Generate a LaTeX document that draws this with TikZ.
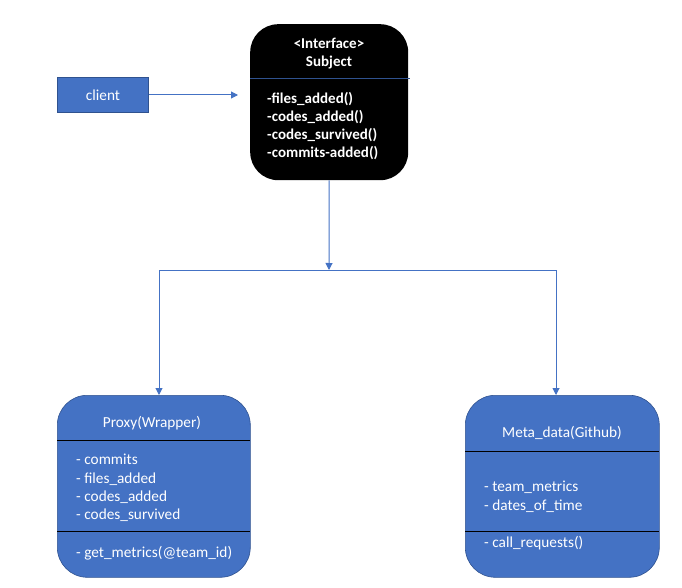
\documentclass[tikz,border=0pt]{standalone}
\usepackage{fontspec}
\setmainfont{Carlito}
\usetikzlibrary{arrows.meta}
\definecolor{cblue}{HTML}{4472C4}
\definecolor{cdark}{HTML}{2F528F}
\begin{document}
\begin{tikzpicture}[x=1pt,y=-1pt,
  txt/.style={text=white, font=\fontsize{15.3}{18}\selectfont, inner sep=0pt, anchor=base west},
  ctxt/.style={txt, anchor=base},
  btxt/.style={txt, font=\fontsize{15}{18}\selectfont\bfseries},
  cbtxt/.style={btxt, anchor=base},
  umlbox/.style={fill=cblue, draw=cdark, line width=0.6pt, rounded corners=30pt, anchor=north west, inner sep=0pt},
  divider/.style={draw=black, line width=0.8pt},
  conn/.style={draw=cblue, line width=1pt, -{Triangle[length=7pt,width=7pt]}},
  line/.style={draw=cblue, line width=1pt}]
\useasboundingbox (0,0) rectangle (682,588);

% Subject
\node[fill=black, rounded corners=28pt, anchor=north west, inner sep=0pt,
      minimum width=158pt, minimum height=156pt] (subj) at (250,24) {};
\draw[draw=cdark, line width=0.8pt] (250,78) -- (410,78);
\node[cbtxt] (s1) at (329,49) {<Interface>};
\node[cbtxt] (s2) at (329,67) {Subject};
\node[btxt] (s3) at (267,104) {-files\_added()};
\node[btxt] (s4) at (267,122) {-codes\_added()};
\node[btxt] (s5) at (267,140) {-codes\_survived()};
\node[btxt] (s6) at (267,158) {-commits-added()};

% client
\node[fill=cblue, draw=cdark, line width=1pt, anchor=north west, inner sep=0pt,
      minimum width=91pt, minimum height=35pt, text=white,
      font=\fontsize{15.3}{18}\selectfont] (client) at (57,77) {client};
\draw[conn, shorten >=12pt] (client.east) -- (client.east -| subj.west);

% Proxy
\node[umlbox, minimum width=193pt, minimum height=182pt] (proxy) at (57,395) {};
\draw[divider] (57,440) -- (250,440);
\draw[divider] (57,531) -- (250,531);
\node[ctxt] (p0) at (152,427) {Proxy(Wrapper)};
\node[txt] (p1) at (76,464) {- commits};
\node[txt] (p2) at (76,483) {- files\_added};
\node[txt] (p3) at (76,501) {- codes\_added};
\node[txt] (p4) at (76,519) {- codes\_survived};
\node[txt] (p5) at (76,557) {- get\_metrics(@team\_id)};

% Meta
\node[umlbox, minimum width=194pt, minimum height=182pt] (meta) at (465,395) {};
\draw[divider] (465,451) -- (659,451);
\draw[divider] (465,531) -- (659,531);
\node[ctxt] (m0) at (562,437) {Meta\_data(Github)};
\node[txt] (m1) at (484,491) {- team\_metrics};
\node[txt] (m2) at (484,510) {- dates\_of\_time};
\node[txt] (m3) at (484,547) {- call\_requests()};

% connectors
\coordinate (split) at (329,270);
\coordinate (pl) at (159,270);
\coordinate (pr) at (556,270);
\draw[conn] (subj.south) -- (split);
\draw[line] (pl) -- (pr);
\draw[conn] (pl) -- (pl |- proxy.north);
\draw[conn] (pr) -- (pr |- meta.north);
\end{tikzpicture}
\end{document}
